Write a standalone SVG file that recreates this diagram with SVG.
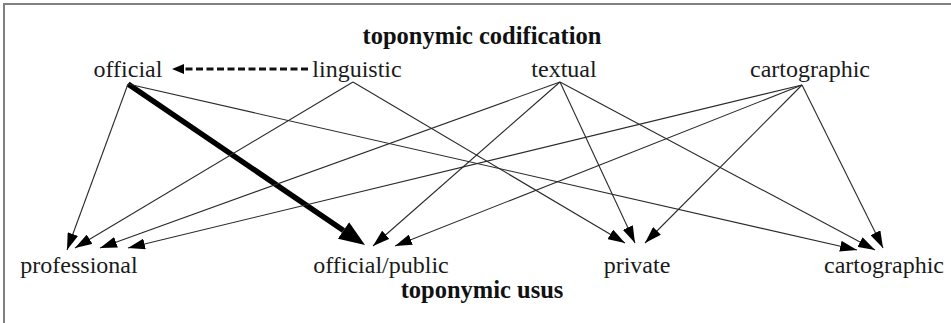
<svg xmlns="http://www.w3.org/2000/svg" width="951" height="323" viewBox="0 0 951 323">
  <style>
    text { font-family: "Liberation Serif", "Times New Roman", serif; font-size: 24px; text-anchor: middle; }
    .lbl { fill: #1a1a1a; }
    .ttl { font-size: 24.5px; font-weight: bold; fill: #111; }
    .edge { stroke: #2a2a2a; stroke-width: 1.1; fill: none; marker-end: url(#arrow); }
    .main { stroke: #000; stroke-width: 5.5; fill: none; marker-end: url(#arrowBig); }
    .dash { stroke: #111; stroke-width: 3; stroke-dasharray: 7 3.5; fill: none; marker-end: url(#arrowSmall); }
    .frame { stroke: #808080; stroke-width: 2; fill: none; }
  </style>
  <defs>
    <marker id="arrow" viewBox="0 -5.5 17 11" refX="17" refY="0" markerWidth="17" markerHeight="11" markerUnits="userSpaceOnUse" orient="auto">
      <path d="M0,-5.5 L17,0 L0,5.5 z" fill="#000"/>
    </marker>
    <marker id="arrowBig" viewBox="0 -10 26 20" refX="0" refY="0" markerWidth="26" markerHeight="20" markerUnits="userSpaceOnUse" orient="auto">
      <path d="M0,-10 L26,0 L0,10 z" fill="#000"/>
    </marker>
    <marker id="arrowSmall" viewBox="0 -5 12 10" refX="0" refY="0" markerWidth="12" markerHeight="10" markerUnits="userSpaceOnUse" orient="auto">
      <path d="M0,-5 L12,0 L0,5 z" fill="#000"/>
    </marker>
  </defs>

  <!-- frame -->
  <path class="frame" d="M4,323 L4,4 L951,4"/>

  <!-- headings -->
  <text class="ttl" x="482" y="44">toponymic codification</text>
  <text class="ttl" x="482" y="298">toponymic usus</text>

  <!-- codification nodes -->
  <g id="cod-official"><text class="lbl" x="128" y="77">official</text></g>
  <g id="cod-linguistic"><text class="lbl" x="357" y="77">linguistic</text></g>
  <g id="cod-textual"><text class="lbl" x="564" y="77">textual</text></g>
  <g id="cod-cartographic"><text class="lbl" x="810" y="77">cartographic</text></g>

  <!-- usus nodes -->
  <g id="use-professional"><text class="lbl" x="79" y="273">professional</text></g>
  <g id="use-official-public"><text class="lbl" x="381" y="273">official/public</text></g>
  <g id="use-private"><text class="lbl" x="637" y="273">private</text></g>
  <g id="use-cartographic"><text class="lbl" x="884" y="273">cartographic</text></g>

  <g id="connectors">
    <!-- linguistic to official -->
    <path class="dash" d="M308,69 L184,69"/>
    <!-- official -->
    <path class="main" d="M128,84 L343.5,230.4"/>
    <path class="edge" d="M128,84 L67,250"/>
    <path class="edge" d="M128,84 L857,250"/>
    <!-- linguistic -->
    <path class="edge" d="M353,82 L75,248"/>
    <path class="edge" d="M353,82 L625,243"/>
    <!-- textual -->
    <path class="edge" d="M560,82 L100,248"/>
    <path class="edge" d="M560,82 L373,246"/>
    <path class="edge" d="M560,82 L635,243"/>
    <path class="edge" d="M560,82 L875,250"/>
    <!-- cartographic -->
    <path class="edge" d="M802,85 L128,248"/>
    <path class="edge" d="M802,85 L395,246"/>
    <path class="edge" d="M802,85 L645,243"/>
    <path class="edge" d="M802,85 L883,248"/>
  </g>
</svg>
